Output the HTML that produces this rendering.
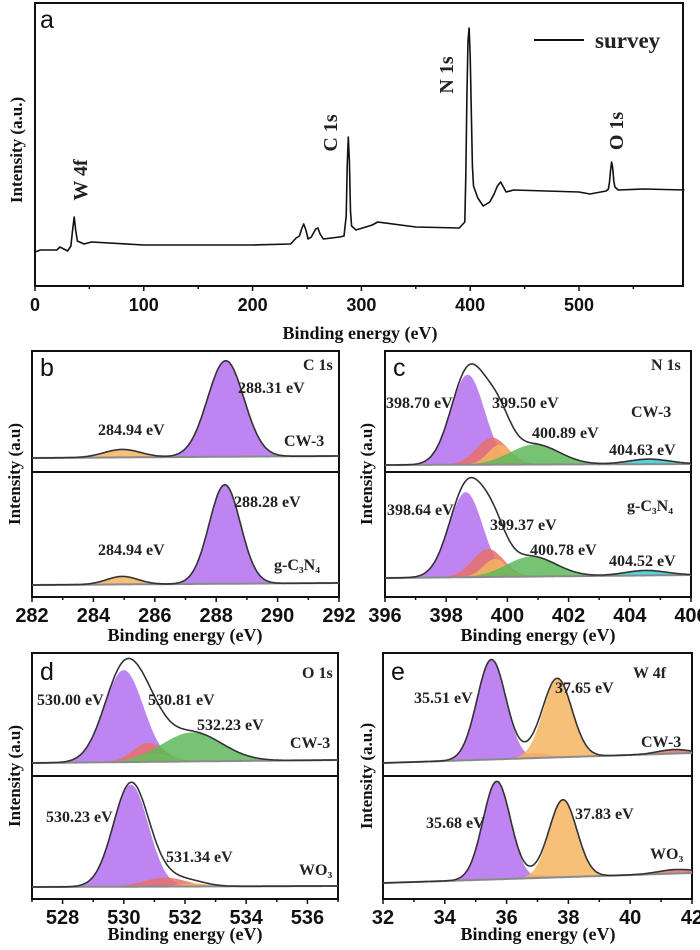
<!DOCTYPE html>
<html><head><meta charset="utf-8"><style>
html,body{margin:0;padding:0;background:#fff;width:700px;height:950px;overflow:hidden}
svg{display:block}
.ann{font-family:"Liberation Serif",serif;font-weight:bold;font-size:16px;fill:#222}
.tick{font-family:"Liberation Sans",sans-serif;font-weight:bold;font-size:20px;fill:#111}
.xl{font-family:"Liberation Serif",serif;font-weight:bold;font-size:18px;fill:#111}
.let{font-family:"Liberation Sans",sans-serif;font-size:25px;fill:#111}
</style></head><body>
<svg id="fig" width="700" height="950" xmlns="http://www.w3.org/2000/svg"></svg>
<script>
// ---- Panel a: survey ----
const surveyE=[0,5,20,23,30,33,34.5,36,37.5,39,45,52,100,200,235,240,243,245,247,249,251,254,256,258,260,262,265,280,284,286,287,288,289,290,291,295,310,315,350,390,395,396,397,398,399,400,401,402,403,407,412,418,422,425,428,433,440,500,510,525,527,528,529,530,531,532,533,536,560,597];
const surveyI=[34,36,36,39,35,40,55,69,55,45,42,44,41,41,42,48,50,57,62,56,47,49,53,57,58,52,47,49,50,70,120,149,125,75,60,56,61,64,59,58,64,110,190,245,258,230,175,120,100,88,80,84,92,100,104,94,96,94,92,95,97,104,115,124,118,105,99,96,97,96];
const surveyTicks=[0,100,200,300,400,500];
// ---- Panel b: C 1s ----
const bTopCenters=[284.94,288.31], bTopHeights=[8,96], bTopWidths=[1.4,1.4], bTopBase=[14,16];
const bBotCenters=[284.94,288.28], bBotHeights=[8,99], bBotWidths=[1.2,1.2], bBotBase=[12,14];
const bTicks=[282,284,286,288,290,292];
// ---- Panel c: N 1s ----
const cTopCenters=[398.70,399.50,399.75,400.89,404.63], cTopHeights=[90,27,20,20,5], cTopWidths=[1.3,1.2,0.9,1.9,1.6], cTopBase=[7,8];
const cBotCenters=[398.64,399.37,399.6,400.78,404.52], cBotHeights=[85,28,18,20,5], cBotWidths=[1.3,1.2,0.9,1.9,1.6], cBotBase=[19,22];
const cTicks=[396,398,400,402,404,406];
// ---- Panel d: O 1s ----
const dTopCenters=[530.00,530.81,531.0,532.23], dTopHeights=[92,19,8,29], dTopWidths=[1.5,1.2,1.4,2.3], dTopBase=[13,16];
const dBotCenters=[530.23,531.34,532.3], dBotHeights=[102,9,3], dBotWidths=[1.35,1.6,1.2], dBotBase=[12,13];
const dTicks=[528,530,532,534,536];
// ---- Panel e: W 4f ----
const eTopCenters=[35.51,36.9,37.65,41.4], eTopHeights=[100,5,78,4], eTopWidths=[1.1,1.0,1.1,1.2], eTopBase=[13,23];
const eBotCenters=[35.68,37.0,37.83,41.5], eBotHeights=[98,3,77,4], eBotWidths=[1.05,1.0,1.05,1.4], eBotBase=[16,26];
const eTicks=[32,34,36,38,40,42];

const NS="http://www.w3.org/2000/svg", svg=document.getElementById('fig');
const P='#b36ef0',O='#f5b560',R='#e8706a',G='#5db85a',C='#30d0d8';
function mk(tag,attrs,parent){const e=document.createElementNS(NS,tag);for(const k in attrs)e.setAttribute(k,attrs[k]);(parent||svg).appendChild(e);return e;}
function txt(x,y,s,cls,name,extra){const t=mk('text',Object.assign({x:x,y:y,class:cls},extra||{}));t.textContent=s;


return t;}
function gauss(x,c,h,w){return h*Math.exp(-4*Math.LN2*(x-c)*(x-c)/(w*w));}

function sub(x0,x1,e0,e1,yb,centers,heights,widths,base,colors,name){
  const sx=e=>x0+(e-e0)/(e1-e0)*(x1-x0);
  const bl=e=>base[0]+(base[1]-base[0])*(e-e0)/(e1-e0);
  const N=300, g=mk('g',{});
  
  
  centers.forEach((c,i)=>{
    let top=[],bot=[];
    for(let k=0;k<=N;k++){const e=e0+(e1-e0)*k/N;top.push(sx(e).toFixed(1)+','+(yb-bl(e)-gauss(e,c,heights[i],widths[i])).toFixed(1));bot.unshift(sx(e).toFixed(1)+','+(yb-bl(e)).toFixed(1));}
    const p=mk('polygon',{points:top.concat(bot).join(' '),fill:colors[i],'fill-opacity':0.85},g);
    
    
  });
  let bpts=[],env=[];
  for(let k=0;k<=N;k++){const e=e0+(e1-e0)*k/N;bpts.push(sx(e).toFixed(1)+','+(yb-bl(e)).toFixed(1));
    let s=bl(e);centers.forEach((c,i)=>s+=gauss(e,c,heights[i],widths[i]));env.push(sx(e).toFixed(1)+','+(yb-s).toFixed(1));}
  const b=mk('polyline',{points:bpts.join(' '),fill:'none',stroke:'#8a8a8a','stroke-width':2},g);
  
  
  const l=mk('polyline',{points:env.join(' '),fill:'none',stroke:'#333','stroke-width':1.6},g);
  
  
}
function frame(x0,x1,yt,ym,yb,e0,e1,ticks,name){
  const r=mk('rect',{x:x0,y:yt,width:x1-x0,height:yb-yt,fill:'none',stroke:'#111','stroke-width':2});
  
  
  if(ym){const d=mk('line',{x1:x0,x2:x1,y1:ym,y2:ym,stroke:'#111','stroke-width':2});
    
    }
  const sx=e=>x0+(e-e0)/(e1-e0)*(x1-x0);
  for(let e=e0;e<=e1+1e-9;e+=(ticks[1]-ticks[0])/2){mk('line',{x1:sx(e),x2:sx(e),y1:yb,y2:yb+(Math.abs((e-ticks[0])/(ticks[1]-ticks[0])%1)<1e-6?5:3),stroke:'#111','stroke-width':1.5});}
  ticks.forEach(t=>txt(sx(t),yb+25,String(t),'tick',name+'-tick-'+t,{'text-anchor':'middle'}));
}

// Panel a
(function(){
  const x0=35,x1=683,yt=3,yb=286,e0=0,e1=595.6;
  const sx=e=>x0+(e-e0)/(e1-e0)*(x1-x0), sy=v=>yb-v;
  const r=mk('rect',{x:x0,y:yt,width:x1-x0,height:yb-yt,fill:'none',stroke:'#111','stroke-width':2});
  
  
  for(let e=0;e<=550;e+=50){mk('line',{x1:sx(e),x2:sx(e),y1:yb,y2:yb+(e%100?3:5),stroke:'#111','stroke-width':1.5});}
  surveyTicks.forEach(t=>txt(sx(t),yb+25,String(t),'tick','survey-tick-'+t,{'text-anchor':'middle',style:'font-size:18px'}));
  const pl=mk('polyline',{points:surveyE.map((e,i)=>sx(e).toFixed(1)+','+sy(surveyI[i]).toFixed(1)).join(' '),fill:'none',stroke:'#111','stroke-width':1.6,'stroke-linejoin':'round'});
  
  
  txt(360,339,'Binding energy (eV)','xl','survey-x-axis-title',{'text-anchor':'middle'});
  txt(22,150,'Intensity (a.u.)','xl','survey-y-axis-title',{'text-anchor':'middle',transform:'rotate(-90 22 150)',style:'font-size:17px'});
  txt(40,28,'a','let','panel-a-label');
  const lg=mk('line',{x1:534,x2:584,y1:40,y2:40,stroke:'#111','stroke-width':2});
  
  
  txt(595,48,'survey','ann','legend-survey',{style:'font-size:23px'});
  [['W 4f',87,180],['C 1s',337,133],['N 1s',453,75],['O 1s',623,131]].forEach(a=>txt(a[1],a[2],a[0],'ann','label-'+a[0].replace(' ','').toLowerCase(),{'text-anchor':'middle',transform:'rotate(-90 '+a[1]+' '+a[2]+')',style:'font-size:20px'}));
})();

// Panel b
frame(32,339,351,472,597,282,292,bTicks,'c1s');
sub(32,339,282,292,472,bTopCenters,bTopHeights,bTopWidths,bTopBase,[O,P],'c1s-cw3');
sub(32,339,282,292,597,bBotCenters,bBotHeights,bBotWidths,bBotBase,[O,P],'c1s-gc3n4');
// Panel c
frame(385,691,351,472,597,396,406,cTicks,'n1s');
sub(385,691,396,406,472,cTopCenters,cTopHeights,cTopWidths,cTopBase,[P,R,O,G,C],'n1s-cw3');
sub(385,691,396,406,597,cBotCenters,cBotHeights,cBotWidths,cBotBase,[P,R,O,G,C],'n1s-gc3n4');
// Panel d
frame(32,338,653,776,899,527,537,dTicks,'o1s');
sub(32,338,527,537,776,dTopCenters,dTopHeights,dTopWidths,dTopBase,[P,R,O,G],'o1s-cw3');
sub(32,338,527,537,899,dBotCenters,dBotHeights,dBotWidths,dBotBase,[P,R,O],'o1s-wo3');
// Panel e
frame(383,692,653,776,899,32,42,eTicks,'w4f');
sub(383,692,32,42,776,eTopCenters,eTopHeights,eTopWidths,eTopBase,[P,R,O,R],'w4f-cw3');
sub(383,692,32,42,899,eBotCenters,eBotHeights,eBotWidths,eBotBase,[P,R,O,R],'w4f-wo3');

// axis titles
[[185,641,'c1s'],[538,641,'n1s'],[185,940,'o1s'],[538,940,'w4f']].forEach(a=>txt(a[0],a[1],'Binding energy (eV)','xl',a[2]+'-x-axis-title',{'text-anchor':'middle'}));
[[20,474,'Intensity (a.u)','c1s'],[372,474,'Intensity (a.u)','n1s'],[20,776,'Intensity (a.u)','o1s'],[372,776,'Intensity (a.u.)','w4f']].forEach(a=>txt(a[0],a[1],a[2],'xl',a[3]+'-y-axis-title',{'text-anchor':'middle',transform:'rotate(-90 '+a[0]+' '+a[1]+')',style:'font-size:17px'}));
// panel letters
txt(40,376,'b','let','panel-b-label');txt(393,376,'c','let','panel-c-label');
txt(40,680,'d','let','panel-d-label');txt(391,680,'e','let','panel-e-label');
// annotations
const anns=[['C 1s',303,370],['288.31 eV',238,393],['284.94 eV',98,435],['CW-3',284,446],['288.28 eV',234,507],['284.94 eV',98,555],['g-C\u2083N\u2084',274,570],
['N 1s',651,370],['398.70 eV',386,408],['399.50 eV',492,408],['CW-3',631,417],['400.89 eV',532,438],['404.63 eV',609,455],['398.64 eV',387,515],['399.37 eV',490,530],['g-C\u2083N\u2084',627,511],['400.78 eV',530,555],['404.52 eV',609,566],
['O 1s',302,678],['530.00 eV',37,705],['530.81 eV',148,705],['532.23 eV',197,730],['CW-3',290,748],['530.23 eV',46,822],['531.34 eV',166,862],['WO\u2083',299,875],
['W 4f',633,678],['37.65 eV',555,693],['35.51 eV',414,703],['CW-3',641,747],['37.83 eV',575,819],['35.68 eV',426,828],['WO\u2083',650,859]];
anns.forEach((a,i)=>txt(a[1],a[2],a[0],'ann','annotation-'+i));
</script>
</body></html>
